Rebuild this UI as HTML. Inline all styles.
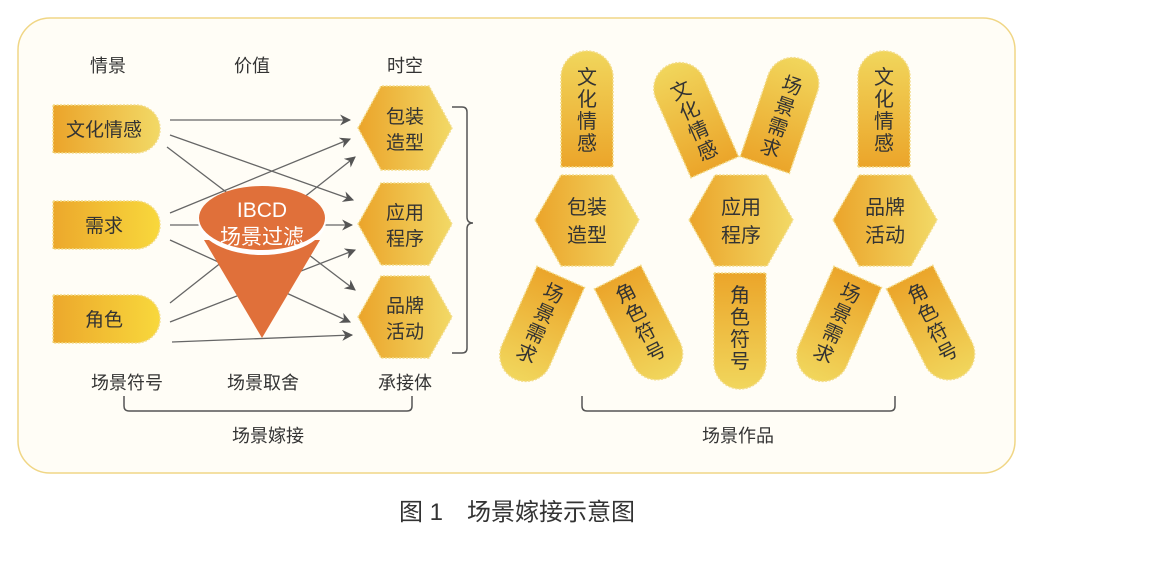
<!DOCTYPE html>
<html><head><meta charset="utf-8"><style>
html,body{margin:0;padding:0;background:#fff;}
svg{display:block;font-family:"Liberation Sans","Noto Sans CJK SC",sans-serif;}
</style></head><body>
<svg width="1150" height="565" viewBox="0 0 1150 565" xmlns="http://www.w3.org/2000/svg">
<defs>
<linearGradient id="gh" x1="0" y1="0" x2="1" y2="0"><stop offset="0" stop-color="#eba42a"/><stop offset="1" stop-color="#f2d966"/></linearGradient>
<linearGradient id="gy" x1="0" y1="0" x2="1" y2="0"><stop offset="0" stop-color="#eca82c"/><stop offset="1" stop-color="#f8d83c"/></linearGradient>
<linearGradient id="gv" x1="0" y1="0" x2="0" y2="1"><stop offset="0" stop-color="#f1d65c"/><stop offset="1" stop-color="#eba52a"/></linearGradient>
<linearGradient id="gv2" x1="0" y1="1" x2="0" y2="0"><stop offset="0" stop-color="#f1d65c"/><stop offset="1" stop-color="#eba52a"/></linearGradient>
<marker id="ar" viewBox="0 0 10 10" refX="9" refY="5" markerWidth="11" markerHeight="11" markerUnits="userSpaceOnUse" orient="auto"><path d="M0,0 L10,5 L0,10 L3,5 Z" fill="#555"/></marker>
</defs>
<rect x="18" y="18" width="997" height="455" rx="32" fill="#fffdf6" stroke="#f0d685" stroke-width="1.5"/>

<g font-size="18" fill="#333" text-anchor="middle">
<text x="108" y="72">情景</text><text x="252" y="72">价值</text><text x="405" y="72">时空</text>
<text x="127" y="389">场景符号</text><text x="263" y="389">场景取舍</text><text x="405" y="389">承接体</text>
<text x="268" y="442">场景嫁接</text><text x="738" y="442">场景作品</text>
</g>
<text x="517" y="520" font-size="24" fill="#333" text-anchor="middle">图 1　场景嫁接示意图</text>

<g fill="none" stroke="#555" stroke-width="1.5">
<path d="M124,396 v10 q0,5 5,5 h278 q5,0 5,-5 v-10"/>
<path d="M582,396 v10 q0,5 5,5 h303 q5,0 5,-5 v-10"/>
<path d="M452,107 h10 q5,0 5,5 v105 q0,6 6,6 q-6,0 -6,6 v119 q0,5 -5,5 h-10"/>
</g>

<g stroke="#f3dc8a" stroke-width="1.5" stroke-dasharray="2 1.5">
<path d="M53,105 H136 A24,24 0 0 1 136,153 H53 Z" fill="url(#gh)"/>
<path d="M53,201 H136 A24,24 0 0 1 136,249 H53 Z" fill="url(#gy)"/>
<path d="M53,295 H136 A24,24 0 0 1 136,343 H53 Z" fill="url(#gy)"/>
</g>
<g font-size="19" fill="#333" text-anchor="middle">
<text x="104" y="136">文化情感</text><text x="104" y="232">需求</text><text x="104" y="326">角色</text>
</g>

<g stroke="#666" stroke-width="1.3" marker-end="url(#ar)">
<line x1="170" y1="120" x2="350" y2="120"/>
<line x1="170" y1="135" x2="353" y2="200"/>
<line x1="167" y1="147" x2="355" y2="290"/>
<line x1="170" y1="213" x2="350" y2="139"/>
<line x1="170" y1="225" x2="352" y2="225"/>
<line x1="170" y1="240" x2="350" y2="322"/>
<line x1="170" y1="303" x2="355" y2="157"/>
<line x1="170" y1="322" x2="355" y2="250"/>
<line x1="172" y1="342" x2="352" y2="335"/>
</g>

<path d="M204,240 L262,338 L320,240 Z" fill="#e0703a"/>
<ellipse cx="262" cy="221" rx="64" ry="34" fill="#fff"/>
<ellipse cx="262" cy="218" rx="63" ry="32" fill="#e0703a"/>
<text x="262" y="217" font-size="21" fill="#fff" text-anchor="middle">IBCD</text>
<text x="262" y="244" font-size="21" fill="#fff" text-anchor="middle">场景过滤</text>

<g stroke="#f3dc8a" stroke-width="1.5" stroke-dasharray="2 1.5" fill="url(#gh)">
<polygon points="358,128 381,86 429,86 452,128 429,170 381,170"/>
<polygon points="358,224 381,183 429,183 452,224 429,265 381,265"/>
<polygon points="358,317 381,276 429,276 452,317 429,358 381,358"/>
</g>
<g font-size="19" fill="#333" text-anchor="middle">
<text x="405" y="123">包装</text><text x="405" y="149">造型</text>
<text x="405" y="219">应用</text><text x="405" y="245">程序</text>
<text x="405" y="312">品牌</text><text x="405" y="338">活动</text>
</g>

<g stroke="#f3dc8a" stroke-width="1.5" stroke-dasharray="2 1.5" fill="url(#gh)">
<polygon points="535,220 561,175 613,175 639,220 613,266 561,266"/>
<polygon points="689,220 715,175 767,175 793,220 767,266 715,266"/>
<polygon points="833,220 859,175 911,175 937,220 911,266 859,266"/>
</g>
<g font-size="20" fill="#333" text-anchor="middle">
<text x="587" y="214">包装</text><text x="587" y="242">造型</text>
<text x="741" y="214">应用</text><text x="741" y="242">程序</text>
<text x="885" y="214">品牌</text><text x="885" y="242">活动</text>
</g>

<g stroke="#f3dc8a" stroke-width="1.5" stroke-dasharray="2 1.5" fill="url(#gv)">
<path d="M-26,58 V-32 A26,26 0 0 1 26,-32 V58 Z" transform="translate(587,109)"/>
<path d="M-26,58 V-32 A26,26 0 0 1 26,-32 V58 Z" transform="translate(884,109)"/>
<path d="M-26,56 V-30 A26,26 0 0 1 26,-30 V56 Z" transform="translate(692,116) rotate(-24)"/>
<path d="M-26,56 V-30 A26,26 0 0 1 26,-30 V56 Z" transform="translate(783,112) rotate(19)"/>
</g>
<g stroke="#f3dc8a" stroke-width="1.5" stroke-dasharray="2 1.5" fill="url(#gv2)">
<path d="M-26,-58 V32 A26,26 0 0 0 26,32 V-58 Z" transform="translate(740,331)"/>
<path d="M-26,-56 V30 A26,26 0 0 0 26,30 V-56 Z" transform="translate(538,328) rotate(24)"/>
<path d="M-26,-56 V30 A26,26 0 0 0 26,30 V-56 Z" transform="translate(643,327) rotate(-27)"/>
<path d="M-26,-56 V30 A26,26 0 0 0 26,30 V-56 Z" transform="translate(835,328) rotate(24)"/>
<path d="M-26,-56 V30 A26,26 0 0 0 26,30 V-56 Z" transform="translate(935,327) rotate(-27)"/>
</g>
<g font-size="20" fill="#333" text-anchor="middle">
<g transform="translate(587,109)"><text y="-25">文</text><text y="-3">化</text><text y="19">情</text><text y="41">感</text></g>
<g transform="translate(884,109)"><text y="-25">文</text><text y="-3">化</text><text y="19">情</text><text y="41">感</text></g>
<g transform="translate(692,116) rotate(-24)"><text y="-21">文</text><text y="1">化</text><text y="23">情</text><text y="45">感</text></g>
<g transform="translate(783,112) rotate(19)"><text y="-21">场</text><text y="1">景</text><text y="23">需</text><text y="45">求</text></g>
<g transform="translate(740,331)"><text y="-29">角</text><text y="-7">色</text><text y="15">符</text><text y="37">号</text></g>
<g transform="translate(538,328) rotate(24)"><text y="-31">场</text><text y="-9">景</text><text y="13">需</text><text y="35">求</text></g>
<g transform="translate(643,327) rotate(-27)"><text y="-31">角</text><text y="-9">色</text><text y="13">符</text><text y="35">号</text></g>
<g transform="translate(835,328) rotate(24)"><text y="-31">场</text><text y="-9">景</text><text y="13">需</text><text y="35">求</text></g>
<g transform="translate(935,327) rotate(-27)"><text y="-31">角</text><text y="-9">色</text><text y="13">符</text><text y="35">号</text></g>
</g>
</svg>
</body></html>
